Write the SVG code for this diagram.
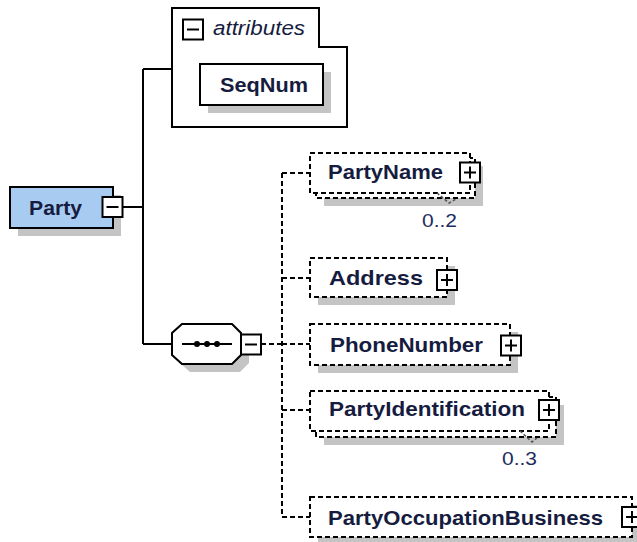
<svg xmlns="http://www.w3.org/2000/svg" width="637" height="542" viewBox="0 0 637 542">
<style>
.bg{fill:#ffffff}
.sh{fill:#c4c4c4;stroke:none}
.box{fill:#ffffff;stroke:#000;stroke-width:2}
.dbox{fill:#ffffff;stroke:#000;stroke-width:2;stroke-dasharray:5,3}
.ln{fill:none;stroke:#000;stroke-width:2}
.dl{fill:none;stroke:#000;stroke-width:2;stroke-dasharray:5,3}
.nm{font-family:"Liberation Sans",Arial,sans-serif;font-weight:bold;font-size:21px;fill:#161c40}
.mu{font-family:"Liberation Sans",Arial,sans-serif;font-size:19px;fill:#1c2c60}
.at{font-family:"Liberation Sans",Arial,sans-serif;font-style:italic;font-size:20px;fill:#161c40}
.pm{fill:#ffffff;stroke:#000;stroke-width:2}
.tick{fill:none;stroke:#555;stroke-width:1.5;stroke-dasharray:3,2}
</style>
<defs>
<g id="plus"><rect class="pm" x="-10" y="-10" width="20" height="20"/><path class="ln" d="M-6,0H6M0,-6V6"/></g>
<g id="minus"><rect class="pm" x="-10" y="-10" width="20" height="20"/><path class="ln" d="M-6,0H6"/></g>
</defs>
<rect class="bg" x="0" y="0" width="637" height="542"/>

<g id="connectors">
<path class="ln" d="M123,207H143M143,69V344M143,69H172M143,344H172"/>
<path class="dl" d="M261,344H282M282,173V517M282,173H310M282,278H310M282,344H310M282,410H310M282,517H310"/>
</g>

<g id="attributes">
<path class="box" d="M172,8H319V47H347V127H172Z"/>
<use href="#minus" x="193" y="29.5"/>
<text class="at" x="213" y="35" textLength="92" lengthAdjust="spacingAndGlyphs">attributes</text>
</g>

<g id="SeqNum">
<rect class="sh" x="208" y="72" width="123" height="41"/>
<rect class="box" x="200" y="64" width="123" height="41"/>
<text class="nm" x="220" y="92" textLength="88" lengthAdjust="spacingAndGlyphs">SeqNum</text>
</g>

<g id="Party">
<rect class="sh" x="18" y="195" width="103" height="41"/>
<rect x="10" y="187" width="103" height="41" fill="#a8cbf2" stroke="#000" stroke-width="2"/>
<text class="nm" x="29" y="215" textLength="53" lengthAdjust="spacingAndGlyphs">Party</text>
<use href="#minus" x="112.5" y="207"/>
</g>

<g id="sequence">
<polygon class="sh" points="190,332 240,332 249,341 249,363 240,372 190,372 180,363 180,341"/>
<polygon class="box" points="182,324 232,324 241,333 241,355 232,364 182,364 172,355 172,333"/>
<path class="ln" d="M182,344H232"/>
<circle cx="197" cy="344" r="3" fill="#000"/>
<circle cx="207" cy="344" r="3" fill="#000"/>
<circle cx="217" cy="344" r="3" fill="#000"/>
<use href="#minus" x="251" y="344.5"/>
</g>

<g id="PartyName">
<rect class="sh" x="324" y="166" width="159" height="40"/>
<rect class="dbox" x="316" y="158" width="159" height="40"/>
<rect class="dbox" x="310" y="153" width="160" height="40"/>
<text class="nm" x="328" y="179" textLength="115" lengthAdjust="spacingAndGlyphs">PartyName</text>
<use href="#plus" x="470" y="172.5"/>
<path class="tick" d="M437,193L449,203L456,199"/>
<text class="mu" x="422" y="227" textLength="35" lengthAdjust="spacingAndGlyphs">0..2</text>
</g>

<g id="Address">
<rect class="sh" x="318" y="266" width="137" height="39"/>
<rect class="dbox" x="310" y="258" width="137" height="39"/>
<text class="nm" x="329" y="285" textLength="94" lengthAdjust="spacingAndGlyphs">Address</text>
<use href="#plus" x="447" y="280"/>
</g>

<g id="PhoneNumber">
<rect class="sh" x="318" y="332" width="200" height="41"/>
<rect class="dbox" x="310" y="324" width="200" height="41"/>
<text class="nm" x="330" y="352" textLength="153" lengthAdjust="spacingAndGlyphs">PhoneNumber</text>
<use href="#plus" x="511" y="345.5"/>
</g>

<g id="PartyIdentification">
<rect class="sh" x="324" y="405" width="240" height="40"/>
<rect class="dbox" x="316" y="397" width="240" height="40"/>
<rect class="dbox" x="310" y="391" width="239" height="40"/>
<text class="nm" x="329" y="416" textLength="196" lengthAdjust="spacingAndGlyphs">PartyIdentification</text>
<use href="#plus" x="549" y="410"/>
<path class="tick" d="M520,431L532,442L537,438"/>
<text class="mu" x="502" y="465" textLength="35" lengthAdjust="spacingAndGlyphs">0..3</text>
</g>

<g id="PartyOccupationBusiness">
<rect class="sh" x="318" y="505" width="322" height="40"/>
<rect class="dbox" x="310" y="497" width="322" height="40"/>
<text class="nm" x="328" y="525" textLength="275" lengthAdjust="spacingAndGlyphs">PartyOccupationBusiness</text>
<use href="#plus" x="632" y="517"/>
</g>
</svg>
